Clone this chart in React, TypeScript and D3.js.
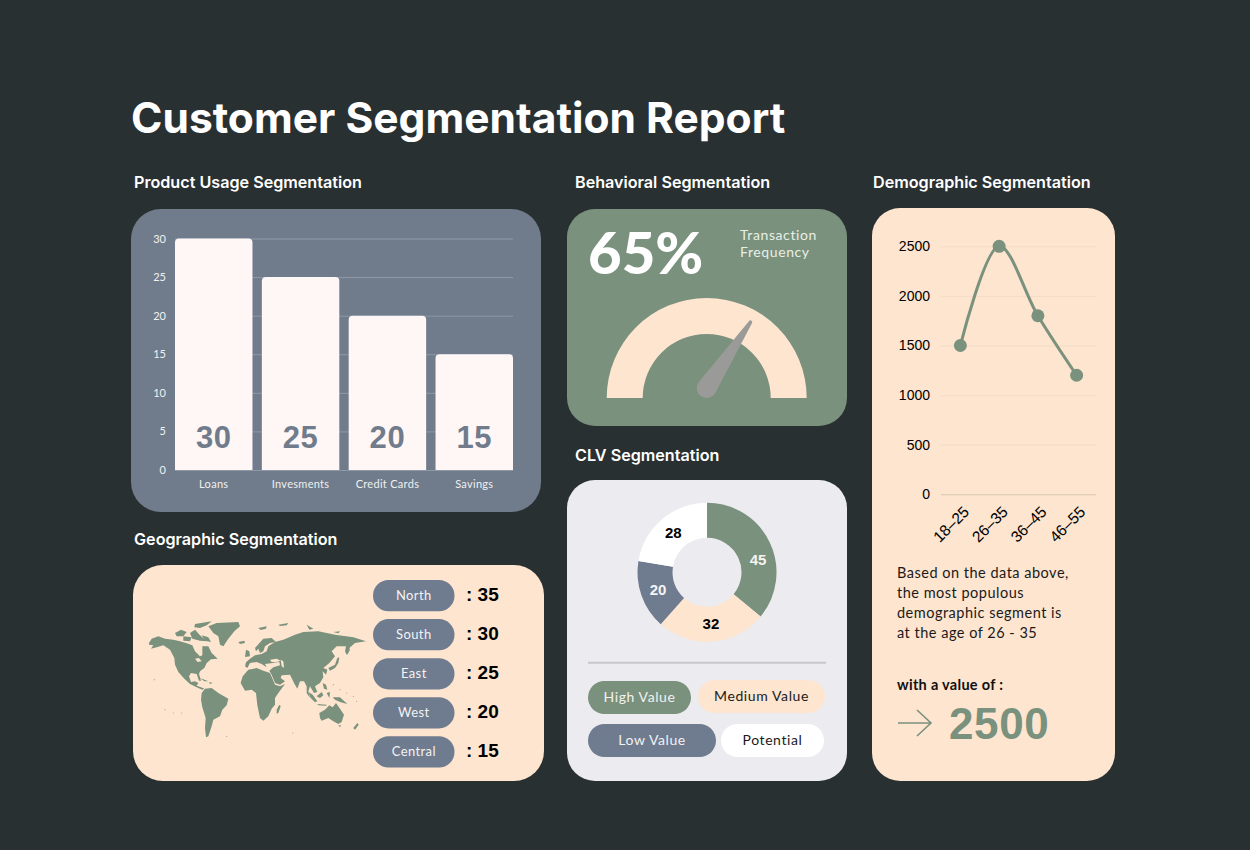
import React, { useEffect, useRef } from "react";
import * as d3 from "d3";

const productCategories = ["Loans", "Invesments", "Credit Cards", "Savings"];
const productValues = [30, 25, 20, 15];
const productTicks = [0, 5, 10, 15, 20, 25, 30];

const regionNames = ["North", "South", "East", "West", "Central"];
const regionValues = [35, 30, 25, 20, 15];

const gaugePercent = 65;

const clvNames = ["High Value", "Medium Value", "Low Value", "Potential"];
const clvValues = [45, 32, 20, 28];

const ageGroups = ["18–25", "26–35", "36–45", "46–55"];
const ageValues = [1500, 2500, 1800, 1200];
const ageTicks = [0, 500, 1000, 1500, 2000, 2500];

const summaryLines = [
  "Based on the data above,",
  "the most populous",
  "demographic segment is",
  "at the age of 26 - 35",
];

// rough outline of the americas and greenland, traced in a 300x375 box
const westLand: [number, number][][] = [
  [[12,75],[20,62],[40,55],[60,62],[85,65],[105,70],[125,76],[142,82],[150,100],[165,115],[172,112],[172,85],[190,85],[200,105],[218,122],[198,124],[185,135],[178,150],[165,160],[162,168],[168,188],[162,188],[155,168],[138,165],[132,175],[138,192],[150,190],[160,195],[155,203],[168,208],[178,212],[172,215],[155,208],[135,198],[118,182],[100,162],[90,140],[88,120],[75,95],[55,82],[35,88],[18,92],[25,82],[12,80]],
  [[190,25],[215,15],[280,12],[285,25],[268,40],[250,62],[235,85],[225,80],[220,55],[205,45]],
  [[90,45],[108,35],[125,42],[115,55],[95,55]],
  [[135,45],[150,35],[165,52],[185,70],[165,68],[142,62]],
  [[150,18],[200,10],[185,22],[165,30],[148,28]],
  [[115,55],[140,58],[135,70],[115,68]],
  [[170,52],[190,58],[198,72],[180,68]],
  [[165,180],[190,190],[178,190]],
  [[192,192],[203,195],[195,198]],
  [[170,225],[180,212],[200,210],[220,225],[250,242],[245,262],[232,275],[225,295],[205,305],[200,325],[190,355],[183,358],[180,330],[182,300],[172,268],[168,245]],
  [[280,72],[298,68],[300,75],[285,78]],
];
const westLakes: [number, number][][] = [
  [[150,122],[162,120],[170,130],[158,132]],
];
const westSpeckles: [number, number][] = [[28,185],[60,275],[85,285],[110,285],[245,355]];

// the rest of the world, traced in a 390x375 box
const eastLand: [number, number][][] = [
  // africa
  [[2,195],[8,175],[25,155],[50,150],[70,158],[90,165],[105,200],[120,205],[135,198],[115,225],[105,240],[105,260],[95,272],[85,295],[70,308],[60,300],[52,262],[48,225],[35,215],[15,218]],
  [[110,275],[118,260],[122,265],[115,285],[110,287]],
  // eurasia
  [[15,145],[18,133],[30,122],[45,112],[65,108],[80,100],[85,85],[105,72],[130,65],[165,50],[190,42],[235,40],[285,50],[340,58],[378,70],[345,75],[328,90],[320,110],[315,100],[318,85],[290,85],[275,100],[285,115],[268,135],[250,150],[262,155],[258,170],[248,160],[250,178],[240,195],[225,205],[232,222],[222,225],[210,205],[205,220],[210,240],[200,225],[200,205],[192,190],[180,190],[172,212],[162,195],[150,170],[125,172],[122,180],[135,190],[120,200],[105,195],[95,170],[88,158],[100,148],[120,142],[118,132],[92,136],[75,138],[80,148],[65,138],[50,132],[30,135],[22,150]],
  // scandinavia, britain
  [[45,90],[70,62],[95,60],[108,72],[90,75],[75,85],[70,100],[60,105],[55,92],[48,100]],
  [[18,95],[28,100],[30,115],[15,117]],
  // arctic islands
  [[55,30],[80,25],[78,32],[62,36]],[[115,20],[145,15],[140,22],[120,24]],[[200,20],[220,32],[208,35]],[[280,42],[300,40],[295,46]],
  // japan, sakhalin
  [[265,150],[285,140],[292,120],[298,118],[295,135],[285,150],[270,158]],
  [[318,105],[328,90],[330,95],[322,110]],
  // southeast asia
  [[248,195],[258,200],[262,215],[252,212]],
  [[205,222],[218,230],[232,250],[225,253],[212,240]],
  [[230,235],[245,222],[250,232],[240,240]],
  [[232,258],[260,260],[258,263],[235,262]],
  [[260,225],[270,222],[268,240]],
  [[278,238],[300,238],[322,258],[300,252],[285,245]],
  // australia, tasmania, new zealand
  [[238,285],[255,275],[268,262],[278,268],[288,255],[300,272],[312,290],[305,312],[295,318],[280,310],[265,300],[245,308],[240,300]],
  [[295,322],[303,322],[300,328]],
  [[340,330],[352,315],[356,320],[345,335]],
];
const eastLakes: [number, number][][] = [
  [[90,125],[110,122],[122,128],[108,133],[95,132]],
  [[122,125],[130,130],[132,150],[125,145]],
];
const eastSpeckles: [number, number][] = [[158,345],[300,215],[320,225],[340,235],[350,250],[280,200]];

const W = 1250;
const H = 850;
const bg = "#293032";
const slate = "#707c8b";
const pillSlate = "#6f7b8f";
const green = "#7a917d";
const peach = "#fde5cf";
const heading = "Inter, 'Noto Sans', sans-serif";
const sans = "Lato, 'Noto Sans', sans-serif";
const arial = "'Liberation Sans', Arial, sans-serif";

// bar with only the top corners rounded
const topRounded = (x: number, y: number, w: number, h: number, r: number) =>
  `M${x},${y + h}V${y + r}Q${x},${y} ${x + r},${y}H${x + w - r}Q${x + w},${y} ${x + w},${y + r}V${y + h}Z`;

const App: React.FC = () => {
  const svgRef = useRef<SVGSVGElement | null>(null);

  useEffect(() => {
    const svg = d3.select(svgRef.current);
    svg.selectAll("*").remove();

    svg.append("rect").attr("width", W).attr("height", H).attr("fill", bg);

    const panel = (x: number, y: number, w: number, h: number, r: number, fill: string) =>
      svg.append("rect").attr("x", x).attr("y", y).attr("width", w).attr("height", h).attr("rx", r).attr("fill", fill);

    const label = (x: number, y: number, text: string, size: number, fill: string, weight = 400, family = sans, anchor = "start", spacing = 0) =>
      svg
        .append("text")
        .attr("x", x)
        .attr("y", y)
        .attr("font-family", family)
        .attr("font-size", size)
        .attr("font-weight", weight)
        .attr("fill", fill)
        .attr("text-anchor", anchor)
        .attr("letter-spacing", spacing)
        .text(text);

    label(131, 133, "Customer Segmentation Report", 42.5, "#ffffff", 700, heading, "start", 0);
    label(134, 188, "Product Usage Segmentation", 16.15, "#ffffff", 600, heading);
    label(575, 188, "Behavioral Segmentation", 16.15, "#ffffff", 600, heading);
    label(873, 188, "Demographic Segmentation", 16.15, "#ffffff", 600, heading);
    label(134, 545, "Geographic Segmentation", 16.15, "#ffffff", 600, heading);
    label(575, 461, "CLV Segmentation", 16.15, "#ffffff", 600, heading);

    // product usage bars
    panel(131, 209, 410, 303, 30, slate);
    const barX = d3.scaleBand().domain(productCategories).range([175, 513]).paddingInner(0.108);
    const barY = d3.scaleLinear().domain([0, 30]).range([470, 238.5]);

    const barAxis = svg.append("g").attr("transform", "translate(175,0)").call(
      d3.axisLeft(barY).tickValues(productTicks).tickSize(-338).tickPadding(9)
    );
    barAxis.select(".domain").remove();
    barAxis.selectAll("line").attr("stroke", "#8e99a8").attr("stroke-width", 1);
    barAxis.selectAll("text").attr("font-family", sans).attr("font-size", 11).attr("fill", "#f2f2f2");

    productCategories.forEach((c, i) => {
      const x = barX(c)!;
      const y = barY(productValues[i]);
      svg.append("path").attr("d", topRounded(x, y, barX.bandwidth(), barY(0) - y, 4)).attr("fill", "#fff6f6");
      label(x + barX.bandwidth() / 2, 448, String(productValues[i]), 31, slate, 700, arial, "middle", 0.6);
      label(x + barX.bandwidth() / 2, 488, c, 11, "#eef0f2", 400, sans, "middle", 0.3);
    });

    // geographic map and pills
    panel(133, 565, 411, 216, 30, peach);
    const mapY = d3.scaleLinear().domain([0, 375]).range([618, 743]);
    const drawMap = (land: [number, number][][], lakes: [number, number][][], dots: [number, number][], mapX: d3.ScaleLinear<number, number>) => {
      const outline = d3
        .line<[number, number]>()
        .x(d => mapX(d[0]))
        .y(d => mapY(d[1]))
        .curve(d3.curveLinearClosed);
      svg.append("g").selectAll("path").data(land).enter().append("path").attr("d", d => outline(d)).attr("fill", green);
      svg.append("g").selectAll("path").data(lakes).enter().append("path").attr("d", d => outline(d)).attr("fill", peach);
      svg.append("g").selectAll("circle").data(dots).enter().append("circle")
        .attr("cx", d => mapX(d[0])).attr("cy", d => mapY(d[1])).attr("r", 0.6).attr("fill", green).attr("opacity", 0.7);
    };
    drawMap(westLand, westLakes, westSpeckles, d3.scaleLinear().domain([0, 300]).range([145, 245]));
    drawMap(eastLand, eastLakes, eastSpeckles, d3.scaleLinear().domain([0, 390]).range([240, 370]));

    const pillY = d3.scaleBand().domain(regionNames).range([580, 767.5]).paddingInner(0.2);
    regionNames.forEach((name, i) => {
      const y = pillY(name)!;
      const h = pillY.bandwidth();
      svg.append("rect").attr("x", 373).attr("y", y).attr("width", 81.5).attr("height", h).attr("rx", h / 2).attr("fill", pillSlate);
      label(413.8, y + h / 2 + 4.5, name, 13, "#f3f3f3", 400, sans, "middle", 0.4);
      label(466, y + h / 2 + 5.5, `: ${regionValues[i]}`, 19, "#000000", 700, arial, "start", 0);
    });

    // gauge
    panel(567, 209, 280, 217, 28, green);
    label(588, 274, `${gaugePercent}%`, 58, "#ffffff", 900);
    label(740, 240, "Transaction", 14, "#e8efe6", 400, sans, "start", 0.6);
    label(740, 257, "Frequency", 14, "#e8efe6", 400, sans, "start", 0.6);
    const gaugeArc = d3.arc()({ innerRadius: 64, outerRadius: 100, startAngle: -Math.PI / 2, endAngle: Math.PI / 2 });
    svg.append("path").attr("d", gaugeArc).attr("transform", "translate(706.7,398)").attr("fill", peach);
    const needleAngle = d3.scaleLinear().domain([0, 100]).range([-112, 112]);
    svg
      .append("path")
      .attr("d", "M-10,0 L-1.8,-79 A1.8,1.8 0 0 1 1.8,-79 L10,0 A10,10 0 0 1 -10,0 Z")
      .attr("transform", `translate(706.7,388) rotate(${needleAngle(gaugePercent)})`)
      .attr("fill", "#9a9b98");

    // clv donut
    panel(567, 480, 280, 301, 28, "#ecebef");
    const clvColors = d3.scaleOrdinal<string>().domain(clvNames).range([green, peach, pillSlate, "#ffffff"]);
    const clvText = ["#f5f5f0", "#000000", "#f5f5f5", "#000000"];
    const pie = d3.pie<number>().sort(null)(clvValues);
    const arc = d3.arc<d3.PieArcDatum<number>>().innerRadius(34.5).outerRadius(69.5);
    const donut = svg.append("g").attr("transform", "translate(707,572.3)");
    pie.forEach((slice, i) => {
      donut.append("path").attr("d", arc(slice)).attr("fill", clvColors(clvNames[i]));
      const [cx, cy] = arc.centroid(slice);
      donut
        .append("text")
        .attr("x", cx + (i === 0 ? 4 : 0))
        .attr("y", cy + 5 + (i === 0 ? 10 : 0))
        .attr("text-anchor", "middle")
        .attr("font-family", arial)
        .attr("font-weight", 700)
        .attr("font-size", 15)
        .attr("fill", clvText[i])
        .text(clvValues[i]);
    });
    svg.append("line").attr("x1", 588).attr("x2", 826).attr("y1", 662.7).attr("y2", 662.7).attr("stroke", "#c8c7cc").attr("stroke-width", 2);
    const legendBoxes = [
      { x: 588, y: 681, w: 103, text: "#f2f2f0" },
      { x: 698, y: 680, w: 127, text: "#1a1a1a" },
      { x: 588, y: 724, w: 128, text: "#f2f2f2" },
      { x: 721, y: 724, w: 103, text: "#1a1a1a" },
    ];
    clvNames.forEach((name, i) => {
      const b = legendBoxes[i];
      svg.append("rect").attr("x", b.x).attr("y", b.y).attr("width", b.w).attr("height", 33).attr("rx", 16.5).attr("fill", clvColors(name));
      label(b.x + b.w / 2, b.y + 21, name, 14, b.text, 400, sans, "middle", 0.6);
    });

    // demographic line
    panel(872, 208, 243, 573, 28, peach);
    const ageX = d3.scalePoint().domain(ageGroups).range([941, 1096]).padding(0.5);
    const ageY = d3.scaleLinear().domain([0, 2500]).range([494.3, 246.3]);
    const ageAxis = svg.append("g").attr("transform", "translate(941,0)").call(
      d3.axisLeft(ageY).tickValues(ageTicks).tickSize(-155).tickPadding(11).tickFormat(d3.format("d"))
    );
    ageAxis.select(".domain").remove();
    ageAxis.selectAll("line").attr("stroke", d => (d === 0 ? "#d6c5b1" : "#f2dcc6")).attr("stroke-width", 1);
    ageAxis.selectAll("text").attr("font-family", arial).attr("font-size", 14).attr("fill", "#000000");

    const ageLine = d3
      .line<number>()
      .x((_, i) => ageX(ageGroups[i])!)
      .y(d => ageY(d))
      .curve(d3.curveCatmullRom.alpha(0.5));
    svg.append("path").attr("d", ageLine(ageValues)).attr("fill", "none").attr("stroke", green).attr("stroke-width", 3);
    ageValues.forEach((v, i) => {
      svg.append("circle").attr("cx", ageX(ageGroups[i])!).attr("cy", ageY(v)).attr("r", 6.5).attr("fill", green);
      svg
        .append("text")
        .attr("transform", `translate(${ageX(ageGroups[i])! + 6},${509}) rotate(-45)`)
        .attr("text-anchor", "end")
        .attr("dy", "0.35em")
        .attr("font-family", arial)
        .attr("font-size", 15.5)
        .attr("fill", "#000000")
        .text(ageGroups[i]);
    });

    summaryLines.forEach((line, i) => label(897, 578 + i * 20, line, 14.5, "#1a1a1a", 400, sans, "start", 0.5));
    label(897, 690, "with a value of :", 14.5, "#111111", 700, sans, "start", 0.3);
    svg.append("path").attr("d", "M898,723H930M917,710L931,723L917,736").attr("fill", "none").attr("stroke", green).attr("stroke-width", 1.6);
    label(949, 739, String(d3.max(ageValues)), 44, green, 700, arial, "start", 0.6);
  }, []);

  return <svg ref={svgRef} width={W} height={H} style={{ position: "absolute", left: 0, top: 0 }} />;
};

export default App;
